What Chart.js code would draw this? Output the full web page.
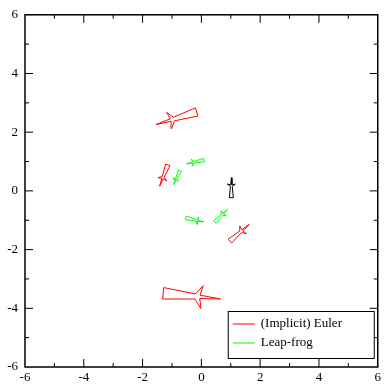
<!DOCTYPE html>
<html>
<head>
<meta charset="utf-8">
<script src="https://cdn.jsdelivr.net/npm/chart.js@4"></script>
<style>
html, body { margin: 0; padding: 0; background: #fff; }
</style>
</head>
<body>
<canvas id="chart" width="384" height="386"></canvas>
<script>
const seriesLabels = ["(Implicit) Euler", "Leap-frog"];
const seriesColors = ["rgb(255, 0, 0)", "rgb(0, 255, 0)"];
const axisMin = -6;
const axisMax = 6;

// tail end and nose tip of each rocket, in plot units
const eulerTail = [[-0.16, 2.69], [-1.14, 0.89], [0.97, -1.71], [-1.30, -3.49]];
const eulerNose = [[-1.54, 2.26], [-1.42, 0.16], [1.63, -1.14], [0.65, -3.68]];
const leapTail = [[-0.73, 0.69], [0.09, 1.05], [-0.53, -0.92], [0.46, -1.06]];
const leapNose = [[-0.95, 0.21], [-0.51, 0.92], [0.09, -1.06], [0.90, -0.62]];
const startTail = [[1.02, -0.23]];
const startNose = [[1.02, 0.45]];

// rocket outline: [along, across] as fractions of the rocket's length
const rocketShape = [[0, 0.1], [0.56, 0.045], [0.68, 0.2], [0.64, 0.03], [1, 0],
    [0.64, -0.03], [0.68, -0.2], [0.56, -0.045], [0, -0.1], [0, 0.1]];

function rocket(tail, nose) {
    const dx = nose[0] - tail[0];
    const dy = nose[1] - tail[1];
    return rocketShape.map(([u, v]) => ({
        x: tail[0] + u * dx - v * dy,
        y: tail[1] + u * dy + v * dx
    }));
}

function rocketSets(tails, noses, color) {
    return tails.map((t, i) => ({
        data: rocket(t, noses[i]),
        borderColor: color,
        borderWidth: 1,
        pointRadius: 0,
        showLine: true,
        fill: false,
        tension: 0
    }));
}

const datasets = [
    ...rocketSets(eulerTail, eulerNose, seriesColors[0]),
    ...rocketSets(leapTail, leapNose, seriesColors[1]),
    ...rocketSets(startTail, startNose, "#000")
];

const serif = "'Liberation Serif', 'DejaVu Serif', serif";

// frame, inward ticks on all sides, boxed legend
const framePlugin = {
    id: 'frame',
    afterDraw(chart) {
        const ctx = chart.ctx;
        const a = chart.chartArea;
        const xs = chart.scales.x;
        const ys = chart.scales.y;
        ctx.save();
        ctx.strokeStyle = '#000';
        ctx.lineWidth = 1.5;
        ctx.strokeRect(a.left, a.top, a.right - a.left, a.bottom - a.top);
        ctx.lineWidth = 1;
        ctx.beginPath();
        for (let v = axisMin + 1; v < axisMax; v++) {
            const len = v % 2 === 0 ? 8 : 4;
            const px = xs.getPixelForValue(v);
            ctx.moveTo(px, a.bottom); ctx.lineTo(px, a.bottom - len);
            ctx.moveTo(px, a.top); ctx.lineTo(px, a.top + len);
            const py = ys.getPixelForValue(v);
            ctx.moveTo(a.left, py); ctx.lineTo(a.left + len, py);
            ctx.moveTo(a.right, py); ctx.lineTo(a.right - len, py);
        }
        ctx.stroke();

        // legend
        const w = 146, h = 47;
        const left = a.right - 4 - w;
        const top = a.bottom - 9 - h;
        ctx.fillStyle = '#fff';
        ctx.fillRect(left, top, w, h);
        ctx.strokeRect(left + 0.5, top + 0.5, w, h);
        ctx.font = '13px ' + serif;
        ctx.textBaseline = 'middle';
        seriesLabels.forEach((label, i) => {
            const y = top + 13 + i * 19;
            ctx.strokeStyle = seriesColors[i];
            ctx.beginPath();
            ctx.moveTo(left + 5, y);
            ctx.lineTo(left + 27, y);
            ctx.stroke();
            ctx.fillStyle = '#000';
            ctx.fillText(label, left + 33, y);
        });
        ctx.restore();
    }
};

const tickFont = { family: serif, size: 13 };

new Chart(document.getElementById('chart'), {
    type: 'scatter',
    data: { datasets },
    options: {
        responsive: false,
        animation: false,
        layout: { padding: { top: 12, right: 4, left: 0, bottom: 0 } },
        plugins: { legend: { display: false }, tooltip: { enabled: false } },
        scales: {
            x: {
                type: 'linear',
                min: axisMin,
                max: axisMax,
                grid: { display: false, drawTicks: false },
                border: { display: false },
                ticks: { stepSize: 2, color: '#000', font: tickFont, padding: 3 },
                afterFit(scale) { scale.height = 19; }
            },
            y: {
                type: 'linear',
                min: axisMin,
                max: axisMax,
                grid: { display: false, drawTicks: false },
                border: { display: false },
                ticks: { stepSize: 2, color: '#000', font: tickFont, padding: 7 },
                afterFit(scale) { scale.width = 25; }
            }
        }
    },
    plugins: [framePlugin]
});
</script>
</body>
</html>
